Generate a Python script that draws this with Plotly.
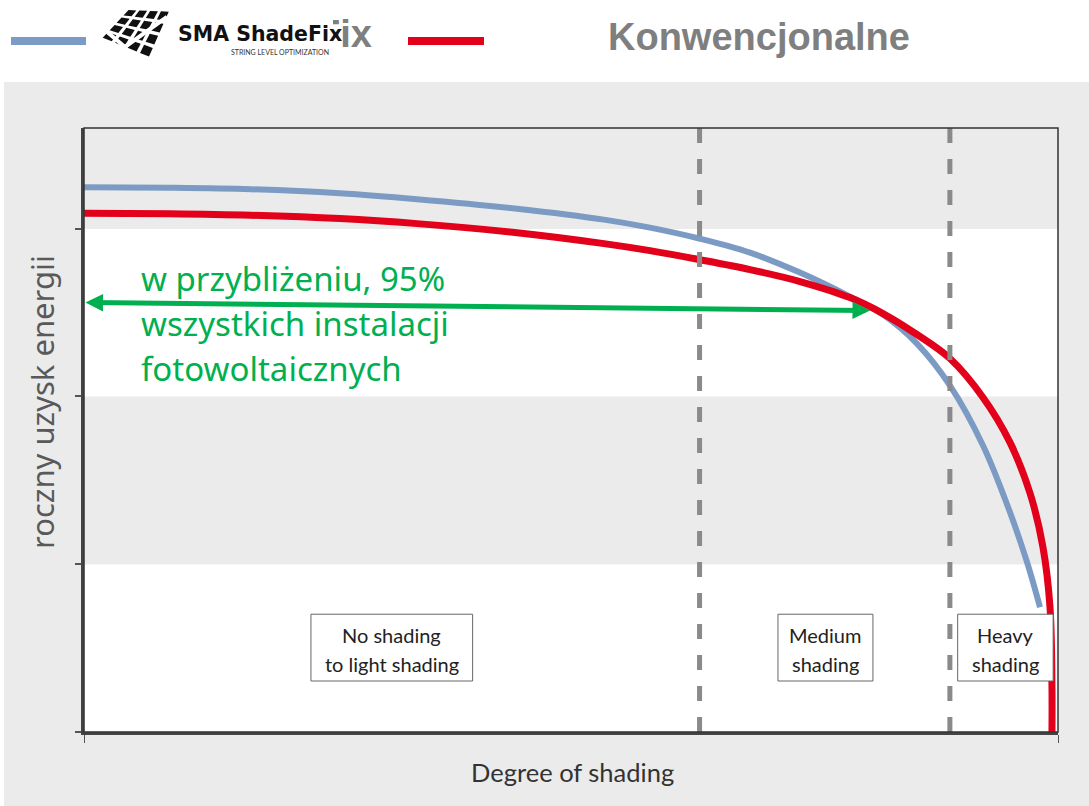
import plotly.graph_objects as go

# ---------------- data ----------------
shading_blue = [0.0000, 0.0883, 0.1715, 0.2628, 0.3419, 0.4446, 0.5339, 0.5811, 0.6324, 0.6838,
                0.7351, 0.7864, 0.8203, 0.8552, 0.8891, 0.9230, 0.9507, 0.9682, 0.9815]
yield_blue = [3.247, 3.244, 3.235, 3.211, 3.176, 3.119, 3.054, 3.006, 2.940, 2.857,
              2.738, 2.595, 2.488, 2.315, 2.065, 1.708, 1.310, 1.012, 0.744]

shading_red = [0.0000, 0.0883, 0.1715, 0.2628, 0.3419, 0.4446, 0.5339, 0.5811, 0.6324, 0.6838,
               0.7351, 0.7864, 0.8203, 0.8552, 0.8891, 0.9230, 0.9507, 0.9713, 0.9846, 0.9918,
               0.9938, 0.9938]
yield_red = [3.092, 3.089, 3.080, 3.060, 3.030, 2.976, 2.911, 2.869, 2.815, 2.756,
             2.685, 2.589, 2.494, 2.369, 2.226, 1.994, 1.726, 1.423, 1.101, 0.744,
             0.274, 0.0]

series_names = ["SMA ShadeFix", "Konwencjonalne"]
series_colors = ["#7b9bc4", "#e2001a"]

band_edges = [0, 1, 2, 3, 3.6]
band_colors = ["#ffffff", "#ebebeb", "#ffffff", "#ebebeb"]
y_ticks = [0, 1, 2, 3]
x_ticks = [0, 1]

zone_bounds = [0.632, 0.889]
zone_labels = [["No shading", "to light shading"], ["Medium", "shading"], ["Heavy", "shading"]]
zone_x0 = [0.233, 0.7125, 0.897]
zone_x1 = [0.399, 0.810, 0.995]
zone_y0, zone_y1 = 0.304, 0.702
zone_line_y = [0.58, 0.405]

arrow_start = (0.0, 2.56)
arrow_end = (0.807, 2.512)
arrow_text = ["w przybliżeniu, 95%", "wszystkich instalacji", "fotowoltaicznych"]

y_title = "roczny uzysk energii"
x_title = "Degree of shading"

# ---------------- geometry helpers (page pixels -> paper) ----------------
W, H = 1089, 806
ML, MR, MT, MB = 84, 31, 0, 74
PW = W - ML - MR          # 974
PH = H - MT - MB          # 732
PLOT_TOP = 128


def px(x):
    return (x - ML) / PW


def py(y):
    return (H - MB - y) / PH


fig = go.Figure()

# gray legend label behind the logo (only "ix" remains visible) - on a helper axis in page pixels
fig.add_trace(go.Scatter(
    x=[372], y=[37], xaxis="x2", yaxis="y2", mode="text", text=["<b>" + series_names[0] + "</b>"],
    textposition="middle left", cliponaxis=False, showlegend=False, hoverinfo="skip",
    textfont=dict(family="Liberation Sans", size=38, color="#7f7f7f"),
))

fig.add_trace(go.Scatter(
    x=shading_blue, y=yield_blue, mode="lines", name=series_names[0],
    line=dict(color=series_colors[0], width=6, shape="spline", smoothing=1.0),
    showlegend=False, hoverinfo="skip",
))
fig.add_trace(go.Scatter(
    x=shading_red, y=yield_red, mode="lines", name=series_names[1],
    line=dict(color=series_colors[1], width=7, shape="spline", smoothing=1.0),
    showlegend=False, hoverinfo="skip",
))

shapes = []
# gray page panel
shapes.append(dict(type="rect", xref="paper", yref="paper", x0=px(4), x1=px(1095),
                   y0=py(812), y1=py(82), fillcolor="#ebebeb", line=dict(width=0), layer="below"))
# horizontal bands
for i, c in enumerate(band_colors):
    shapes.append(dict(type="rect", xref="x", yref="y", x0=0, x1=1,
                       y0=band_edges[i], y1=band_edges[i + 1], fillcolor=c,
                       line=dict(width=0), layer="below"))
# zone separators
for xb in zone_bounds:
    shapes.append(dict(type="line", xref="x", yref="y domain", x0=xb, x1=xb, y0=0, y1=1,
                       line=dict(color="#8a8a8a", width=5, dash="15px,16px"), layer="above"))
# zone boxes
for x0, x1 in zip(zone_x0, zone_x1):
    shapes.append(dict(type="rect", xref="x", yref="y", x0=x0, x1=x1, y0=zone_y0, y1=zone_y1,
                       fillcolor="white", line=dict(color="#666666", width=1), layer="above"))
# plot frame
shapes.append(dict(type="rect", xref="x domain", yref="y domain", x0=0, x1=1, y0=0, y1=1,
                   line=dict(color="#333333", width=1.5), layer="above"))

# legend line samples
shapes.append(dict(type="line", xref="paper", yref="paper", x0=px(11), x1=px(86), y0=py(41), y1=py(41),
                   line=dict(color=series_colors[0], width=8), layer="above"))
shapes.append(dict(type="line", xref="paper", yref="paper", x0=px(408), x1=px(484), y0=py(41), y1=py(41),
                   line=dict(color=series_colors[1], width=8), layer="above"))

# white logo background covering the gray label
shapes.append(dict(type="rect", xref="paper", yref="paper", x0=px(97), x1=px(333), y0=py(64), y1=py(3),
                   fillcolor="white", line=dict(width=0), layer="above"))

# logo icon: perspective tile grid
TL, TR, BR, BL = (128, 9), (171, 10), (150, 59), (100, 38)


def bil(u, v):
    xt = TL[0] + (TR[0] - TL[0]) * u
    yt = TL[1] + (TR[1] - TL[1]) * u
    xb = BL[0] + (BR[0] - BL[0]) * u
    yb = BL[1] + (BR[1] - BL[1]) * u
    return xt + (xb - xt) * v, yt + (yb - yt) * v


n = 4
g = 0.07
path = ""
for i in range(n):
    for j in range(n):
        u0, u1 = i / n + g / 2, (i + 1) / n - g / 2
        v0, v1 = j / n + g / 2, (j + 1) / n - g / 2
        pts = [bil(u0, v0), bil(u1, v0), bil(u1, v1), bil(u0, v1)]
        path += "M" + " L".join(f"{px(a):.5f},{py(b):.5f}" for a, b in pts) + " Z "
shapes.append(dict(type="path", xref="paper", yref="paper", path=path,
                   fillcolor="#111111", line=dict(width=0), layer="above"))
check = [(106, 31), (125, 47), (167, 17)]
shapes.append(dict(type="path", xref="paper", yref="paper",
                   path="M" + " L".join(f"{px(a):.5f},{py(b):.5f}" for a, b in check),
                   line=dict(color="white", width=4), layer="above"))

annotations = []
# logo text
annotations.append(dict(xref="paper", yref="paper", x=px(176), y=py(34), xanchor="left", yanchor="middle",
                        text="<b>SMA ShadeFix</b>", showarrow=False,
                        font=dict(family="DejaVu Sans", size=20.5, color="#111111")))
annotations.append(dict(xref="paper", yref="paper", x=px(280), y=py(52), xanchor="center", yanchor="middle",
                        text="STRING LEVEL OPTIMIZATION", showarrow=False,
                        font=dict(family="Lato", size=7, color="#333333")))
# second legend label
annotations.append(dict(xref="paper", yref="paper", x=px(606), y=py(37), xanchor="left", yanchor="middle",
                        text="<b>" + series_names[1] + "</b>", showarrow=False,
                        font=dict(family="Liberation Sans", size=38, color="#7f7f7f")))

# y title
annotations.append(dict(xref="paper", yref="paper", x=px(42), y=py(402), xanchor="center", yanchor="middle",
                        text=y_title, textangle=-90, showarrow=False,
                        font=dict(family="Noto Sans", size=31, color="#595959")))
# x title
annotations.append(dict(xref="paper", yref="paper", x=px(572), y=py(772), xanchor="center", yanchor="middle",
                        text=x_title, showarrow=False,
                        font=dict(family="Lato", size=25.5, color="#333333")))

# zone labels
for k, lines in enumerate(zone_labels):
    xc = (zone_x0[k] + zone_x1[k]) / 2
    for ln, yv in zip(lines, zone_line_y):
        annotations.append(dict(xref="x", yref="y", x=xc, y=yv, xanchor="center", yanchor="middle",
                                text=ln, showarrow=False,
                                font=dict(family="Lato", size=20, color="#222222")))

# green arrow
annotations.append(dict(xref="x", yref="y", axref="x", ayref="y",
                        x=arrow_end[0], y=arrow_end[1], ax=arrow_start[0], ay=arrow_start[1],
                        text="", showarrow=True, arrowside="end+start",
                        arrowhead=2, startarrowhead=2, arrowsize=0.7, startarrowsize=0.7,
                        arrowwidth=5, arrowcolor="#00b050", standoff=0, startstandoff=0))
# green text
for ln, yp in zip(arrow_text, [278, 323, 368]):
    annotations.append(dict(xref="paper", yref="paper", x=px(139), y=py(yp), xanchor="left", yanchor="middle",
                            text=ln, showarrow=False,
                            font=dict(family="Noto Sans", size=33, color="#00b050")))

fig.update_layout(
    width=W, height=H,
    margin=dict(l=ML, r=MR, t=MT, b=MB, pad=0),
    paper_bgcolor="white", plot_bgcolor="white",
    shapes=shapes, annotations=annotations, showlegend=False,
    xaxis=dict(domain=[0, 1], range=[0, 1], tickvals=x_ticks, showticklabels=False, ticks="outside", ticklen=8,
               tickcolor="#555555", tickwidth=1, showgrid=False, zeroline=False,
               showline=True, linecolor="#444444", linewidth=2.5),
    yaxis=dict(domain=[0, py(PLOT_TOP)], range=[0, 3.6], tickvals=y_ticks, showticklabels=False,
               ticks="outside", ticklen=6,
               tickcolor="#555555", tickwidth=1.5, showgrid=False, zeroline=False,
               showline=True, linecolor="#444444", linewidth=2.5),
    xaxis2=dict(domain=[0, 1], range=[ML, W - MR], visible=False, anchor="y2", fixedrange=True),
    yaxis2=dict(domain=[py(75), 1], range=[75, 0], visible=False, anchor="x2", fixedrange=True),
)

fig.write_html("out.html", config={"displayModeBar": False},
               post_script="document.body.style.margin='0px';")
